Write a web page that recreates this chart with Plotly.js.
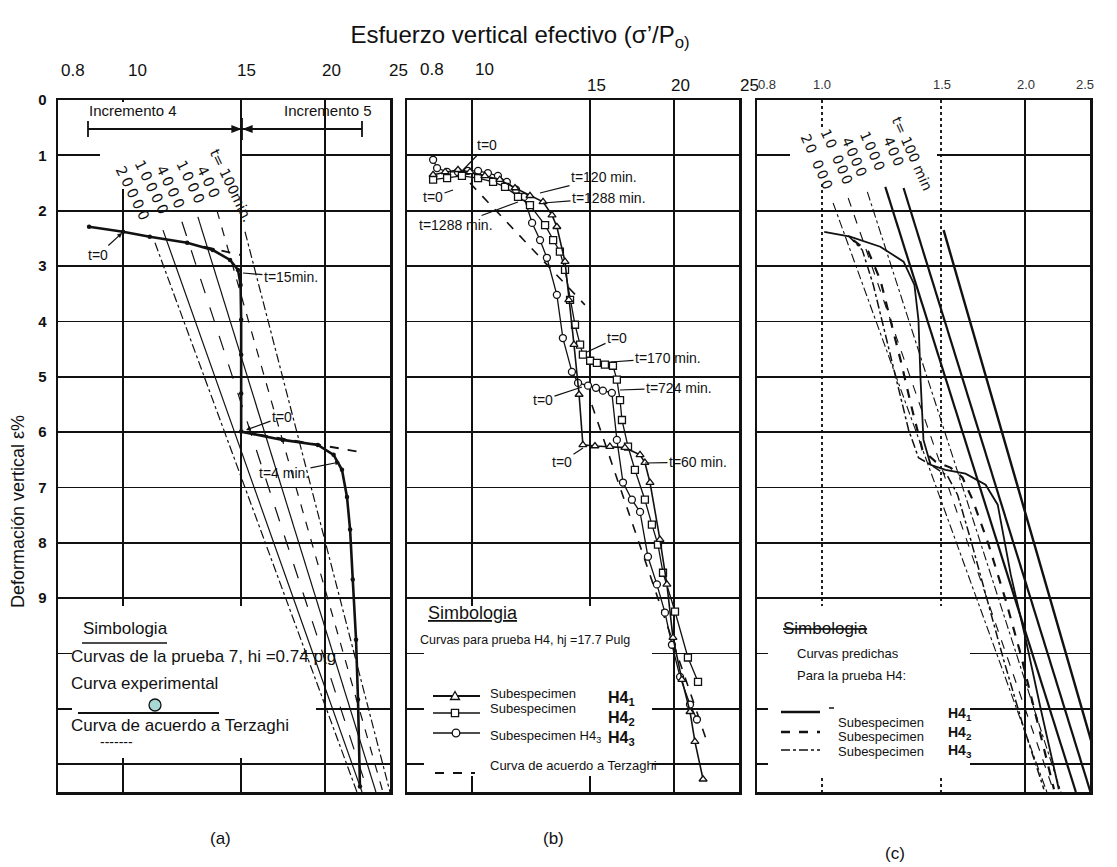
<!DOCTYPE html>
<html><head><meta charset="utf-8">
<script src="https://cdn.plot.ly/plotly-3.0.1.min.js"></script>
<style>html,body{margin:0;padding:0;background:#fff}#chart{width:1117px;height:867px}</style>
</head><body><div id="chart"></div>
<script>
// ================= DATA =================
const yTickVals = [0,1,2,3,4,5,6,7,8,9];
const yTickText = ['0','1','2','3','4','5','6','7','8','9'];
const yExtraGrid = [10,11,12];
const xGridVals = [10,15,20];
const topTickTextAB = ['0.8','10','15','20','25'];
const topTickTextC = ['0.8','1.0','1.5','2.0','2.5'];

// Panel (a) – prueba 7
const aExpX = [8.90,10.0,10.96,12.46,13.61,14.44,14.84,14.97,15.0,15.0,15.0,15.0,17.3,19.52,20.6,21.2,21.57,21.8,22.0,22.25,22.4,22.55];
const aExpY = [2.29,2.38,2.47,2.58,2.71,2.89,3.07,3.34,3.97,4.6,5.3,5.99,6.14,6.23,6.41,6.68,7.17,7.76,8.66,9.75,10.83,12.4];
const aTerzX = [13.2,15.0,null,15.0,22.9];
const aTerzY = [2.65,2.80,null,5.99,6.37];
const aIsoLabels = ['20000','10000','4000','1000','400','t= 100min.'];
const aIsoTopX = [11.16,11.47,12.24,12.93,13.80,15.2];
const aIsoTopY = [2.58,2.35,2.20,2.11,1.99,2.38];
const aIsoBotX = [22.32,22.71,23.18,23.82,24.4,25.0];
const aIsoBotY = [12.5,12.5,12.5,12.5,12.5,12.5];

// Panel (b) – prueba H4
const bH41X = [8.75,9.12,9.53,9.93,10.45,11.0,11.59,12.2,12.76,13.16,13.38,13.76,13.94,14.19,14.44,14.63,15.25,16.05,16.9,17.8,18.1,18.42,19.06,19.52,19.93,20.55,21.13,21.49,22.1];
const bH41Y = [1.35,1.30,1.26,1.30,1.37,1.44,1.59,1.73,1.84,2.08,2.29,2.92,3.61,4.42,5.32,6.23,6.25,6.26,6.28,6.41,6.55,6.91,7.94,8.75,9.71,10.47,11.05,11.59,12.27];
const bH42X = [8.75,9.18,9.66,10.21,10.75,11.2,11.71,12.2,12.85,13.21,13.52,13.76,14.0,14.24,14.49,14.63,15.0,15.35,15.78,16.22,16.44,16.62,16.73,17.08,17.49,18.1,18.54,18.93,19.26,20.07,20.98,21.72];
const bH42Y = [1.44,1.41,1.37,1.41,1.48,1.57,1.75,1.90,2.26,2.53,2.74,3.07,3.61,4.06,4.42,4.60,4.71,4.75,4.78,4.80,5.05,5.42,5.78,6.26,6.68,7.22,7.67,8.03,8.54,9.24,10.07,10.51];
const bH43X = [8.75,8.87,9.18,9.53,9.86,10.21,10.56,10.93,11.27,11.63,11.95,12.29,12.63,12.93,13.38,13.66,14.09,14.39,14.89,15.3,15.67,16.16,16.44,16.79,17.31,17.8,18.29,18.86,19.39,19.86,20.42,21.13,21.64];
const bH43Y = [1.08,1.23,1.30,1.30,1.28,1.28,1.32,1.37,1.48,1.62,1.75,2.22,2.53,2.85,3.52,4.30,4.91,5.11,5.16,5.20,5.25,5.29,6.14,6.91,7.22,7.44,8.25,8.75,9.26,9.84,10.42,10.92,11.19];
const bTerzX = [9.93,14.73,null,15.09,22.47];
const bTerzY = [1.50,3.70,null,5.51,11.64];

// Panel (c) – curvas predichas
const cIsoLabels = ['20 000','10 000','4000','1000','400','t= 100 min'];
const cIsoTopX = [10.38,10.93,11.67,12.41,13.21,15.15];
const cIsoTopY = [1.86,1.77,1.66,1.57,1.59,2.35];
const cIsoBotX = [21.57,22.1,22.63,23.82,25.04,26.4];
const cIsoBotY = [12.5,12.5,12.5,12.5,12.5,12.5];
const cH41X = [10.07,11.0,12.2,13.21,13.71,13.9,14.0,14.14,14.49,15.25,16.33,17.49,18.23,18.6,19.06,20.07,21.13,22.47];
const cH41Y = [2.38,2.47,2.65,2.92,3.34,3.97,5.05,6.14,6.59,6.68,6.75,6.95,7.31,7.85,8.57,9.75,11.01,12.45];
const cH42X = [11.12,11.71,12.2,12.63,13.07,13.61,14.09,14.73,15.51,16.16,16.73,17.67,18.73,19.73,20.84,22.1];
const cH42Y = [2.53,2.74,3.25,3.97,4.69,5.60,6.32,6.53,6.64,6.82,7.22,8.03,9.03,10.02,11.19,12.45];
const cH43X = [10.93,11.47,11.91,12.37,12.89,13.44,13.9,14.59,15.35,15.89,16.62,17.61,18.6,19.86,21.35];
const cH43Y = [2.45,2.71,3.34,4.15,5.05,5.96,6.46,6.61,6.79,7.13,7.94,9.03,10.11,11.28,12.45];

// ================= DRAWING =================
const FONT = 'Arial, "Liberation Sans", sans-serif';
const DJ = '"DejaVu Sans", Arial, sans-serif';
const INK = '#111';
const W=1117,H=867,ML=58,MR=27,MT=100,MB=75;
const PW=W-ML-MR, PH=H-MT-MB;
const fx = p => (p-ML)/PW;
const fy = p => (H-MB-p)/PH;

function note(x,y,text,size,extra,family){
  return Object.assign({xref:'paper',yref:'paper',x:fx(x),y:fy(y),text:text,showarrow:false,
    xanchor:'center',yanchor:'middle',font:{family:family||FONT,size:size||14,color:INK}},extra||{});
}
function arrowNote(tx,ty,px_,py_,text,head,size){
  return {xref:'paper',yref:'paper',x:fx(px_),y:fy(py_),ax:tx-px_,ay:ty-py_,text:text,showarrow:true,
    arrowhead:head,arrowsize:0.8,arrowwidth:1.2,arrowcolor:INK,standoff:0,
    font:{family:FONT,size:size||14,color:INK}};
}
function seg(x0,y0,x1,y1,w,dash){
  return {type:'line',xref:'paper',yref:'paper',x0:fx(x0),y0:fy(y0),x1:fx(x1),y1:fy(y1),
    line:{color:INK,width:w||1.5,dash:dash||'solid'}};
}
function maskPoly(pts){
  const d='M'+pts.map(p=>fx(p[0]).toFixed(5)+','+fy(p[1]).toFixed(5)).join('L')+'Z';
  return {type:'path',xref:'paper',yref:'paper',path:d,fillcolor:'#ffffff',line:{width:0}};
}
function mark(type,cx,cy,r,fill,path){
  const s={type:type,xref:'paper',yref:'paper',xsizemode:'pixel',ysizemode:'pixel',
    xanchor:fx(cx),yanchor:fy(cy),fillcolor:fill||'#fff',line:{color:INK,width:1.3}};
  if(type==='path'){s.path=path;} else {s.x0=-r;s.x1=r;s.y0=-r;s.y1=r;}
  return s;
}
function spaced(t,sp){return '<span style="letter-spacing:'+sp+'px">'+t+'</span>';}

const traces=[];
function addLine(xs,ys,ax,line,extra){
  traces.push(Object.assign({type:'scatter',mode:'lines',x:xs,y:ys,
    xaxis:'x'+ax,yaxis:'y'+ax,hoverinfo:'skip',connectgaps:false,
    line:Object.assign({color:INK,width:1.2},line)},extra||{}));
}

// (a)
const aDash=['dashdot','solid','longdash','solid','dash','dashdot'];
aIsoLabels.forEach((l,i)=>addLine([aIsoTopX[i],aIsoBotX[i]],[aIsoTopY[i],aIsoBotY[i]],'',{dash:aDash[i],width:1.2}));
addLine(aTerzX,aTerzY,'',{dash:'dash',width:1.8});
addLine(aExpX,aExpY,'',{width:2.6},{mode:'lines+markers',marker:{size:4.5,color:INK}});

// (b)
addLine(bTerzX,bTerzY,'2',{dash:'dash',width:1.6});
const mk = sym => ({size:7,symbol:sym,color:'#fff',line:{color:INK,width:1.3}});
addLine(bH43X,bH43Y,'2',{width:1.3},{mode:'lines+markers',marker:mk('circle')});
addLine(bH42X,bH42Y,'2',{width:1.3},{mode:'lines+markers',marker:mk('square')});
addLine(bH41X,bH41Y,'2',{width:1.6},{mode:'lines+markers',marker:mk('triangle-up')});

// (c)
const cDash=['dashdot','dash','dashdot','solid','solid','solid'];
const cW=[1.1,1.1,1.1,2.2,2.2,2.4];
cIsoLabels.forEach((l,i)=>addLine([cIsoTopX[i],cIsoBotX[i]],[cIsoTopY[i],cIsoBotY[i]],'3',{dash:cDash[i],width:cW[i]}));
addLine(cH43X,cH43Y,'3',{dash:'dashdot',width:1.5});
addLine(cH42X,cH42Y,'3',{dash:'dash',width:2.2});
addLine(cH41X,cH41Y,'3',{width:1.8});

// axes
const LR=[Math.log10(8),Math.log10(25)];
function xAx(domain,anchor){
  return {domain:domain,anchor:anchor,type:'log',range:LR,tickvals:xGridVals,showticklabels:false,ticks:'',
    showgrid:true,gridcolor:INK,gridwidth:1.8,showline:true,mirror:true,linecolor:INK,linewidth:2.5,zeroline:false,fixedrange:true};
}
function yAx(anchor,labels){
  return {anchor:anchor,domain:[0,1],range:[12.5,0],tickmode:'array',tickvals:yTickVals,ticktext:yTickText,
    showticklabels:labels,ticks:'',ticklabelstandoff:6,showgrid:true,gridcolor:INK,gridwidth:1.8,showline:true,mirror:true,
    linecolor:INK,linewidth:2.5,zeroline:false,fixedrange:true,
    minor:{tickmode:'array',tickvals:yExtraGrid,showgrid:true,gridcolor:INK,gridwidth:1.8,ticks:''},
    tickfont:{family:FONT,size:15,color:INK,weight:'bold'}};
}
const dA=[0,(390-ML)/PW], dB=[(407-ML)/PW,(739-ML)/PW], dC=[(757-ML)/PW,1];
const x3=xAx(dC,'y3');
x3.tickvals=[20];
x3.minor={tickmode:'array',tickvals:[10,15],showgrid:true,griddash:'dot',gridcolor:'#222',gridwidth:1.6,ticks:''};

const ann=[];
// top tick labels
[73,137,246,331,398].forEach((x,i)=>ann.push(note(x,71,topTickTextAB[i],17)));
[[432,70],[484,70],[596,86],[680,86],[749,86]].forEach((p,i)=>ann.push(note(p[0],p[1],topTickTextAB[i],17)));
[767,822,942,1026,1085].forEach((x,i)=>ann.push(note(x,84,topTickTextC[i],13,{font:{family:FONT,size:13,color:'#333'}})));
// rotated isochrone labels
[[133,194],[152,188],[171,188],[191,183],[209,183],[231,185]].forEach((p,i)=>
  ann.push(note(p[0],p[1],i===5?aIsoLabels[i]:spaced(aIsoLabels[i],3),i===5?14:14.5,{textangle:64},DJ)));
[[817,162],[837,157],[855,158],[873,152],[894,152],[912,153]].forEach((p,i)=>
  ann.push(note(p[0],p[1],i===5?cIsoLabels[i]:spaced(cIsoLabels[i],2),i===5?14:14,{textangle:66},DJ)));

// panel (a) texts
ann.push(note(133,110,'Incremento 4',15));
ann.push(note(328,110,'Incremento 5',15));
ann.push(arrowNote(98,255,122,233,'t=0',2,14));
ann.push(arrowNote(291,277,243,273,'t=15min.',0,14));
ann.push(arrowNote(282,417,246,430,'t=0',2,14));
ann.push(arrowNote(284,473,340,462,'t=4 min.',2,14));
ann.push(note(125,628,'Simbologia',17));
ann.push(note(69,656,'Curvas de la prueba 7, hi =0.74 plg',17,{xanchor:'left'}));
ann.push(note(69,683,'Curva experimental',17,{xanchor:'left'}));
ann.push(note(69,725,'Curva de acuerdo a Terzaghi',17,{xanchor:'left'}));
ann.push(note(116,742,'-------',14));

// panel (b) texts
ann.push(arrowNote(487,145,463,170,'t=0',0,14));
ann.push(arrowNote(433,197,453,190,'t=0',0,14));
ann.push(arrowNote(604,177,540,193,'t=120 min.',0,14));
ann.push(arrowNote(609,198,543,203,'t=1288 min.',0,14));
ann.push(arrowNote(456,225,518,202,'t=1288 min.',0,14));
ann.push(arrowNote(617,338,587,352,'t=0',0,14));
ann.push(arrowNote(668,358,611,362,'t=170 min.',0,14));
ann.push(arrowNote(679,388,620,390,'t=724 min.',0,14));
ann.push(arrowNote(543,400,582,387,'t=0',0,14));
ann.push(arrowNote(562,462,583,448,'t=0',0,14));
ann.push(arrowNote(698,462,645,463,'t=60 min.',0,14));
ann.push(note(473,613,'<u>Simbologia</u>',18));
ann.push(note(418,640,'Curvas para prueba H4, hj =17.7 Pulg',12.5,{xanchor:'left'}));
ann.push(note(488,693,'Subespecimen',13,{xanchor:'left'}));
ann.push(note(488,708,'Subespecimen',13,{xanchor:'left'}));
ann.push(note(488,736,'Subespecimen H4<sub>3</sub>',13,{xanchor:'left'}));
ann.push(note(488,765,'Curva de acuerdo a Terzaghi',13,{xanchor:'left'}));
ann.push(note(606,698,'<b>H4<sub>1</sub></b>',16,{xanchor:'left'}));
ann.push(note(606,718,'<b>H4<sub>2</sub></b>',16,{xanchor:'left'}));
ann.push(note(606,738,'<b>H4<sub>3</sub></b>',16,{xanchor:'left'}));

// panel (c) texts
ann.push(note(781,628,'<s>Simbologia</s>',17,{xanchor:'left'}));
ann.push(note(795,653,'Curvas predichas',13,{xanchor:'left'}));
ann.push(note(795,675,'Para la prueba H4:',13,{xanchor:'left'}));
ann.push(note(836,722,'Subespecimen',13,{xanchor:'left'}));
ann.push(note(836,736,'Subespecimen',13,{xanchor:'left'}));
ann.push(note(836,751,'Subespecimen',13,{xanchor:'left'}));
ann.push(note(946,714,'<b>H4<sub>1</sub></b>',14,{xanchor:'left'}));
ann.push(note(946,733,'<b>H4<sub>2</sub></b>',14,{xanchor:'left'}));
ann.push(note(946,751,'<b>H4<sub>3</sub></b>',14,{xanchor:'left'}));

// panel letters & y title
ann.push(note(220,838,'(a)',17));
ann.push(note(553,838,'(b)',17));
ann.push(note(895,853,'(c)',17));
ann.push(note(18,512,'Deformación vertical ε%',18,{textangle:-90}));

const shapes=[
  // white masks hiding the grid behind legends and labels (kept clear of the curves)
  maskPoly([[72,606],[284,606],[316,695],[316,758],[72,758]]),
  maskPoly([[100,102],[240,102],[240,189],[100,189]]),
  maskPoly([[424,606],[652,606],[652,776],[424,776]]),
  maskPoly([[768,606],[970,606],[970,776],[768,776]]),
  maskPoly([[790,128],[937,128],[937,184],[790,184]]),
  // incremento bar
  seg(88,129,362,129,1.8), seg(88,121,88,137,1.8), seg(362,121,362,137,1.8), seg(242,118,242,140,1.8),
  mark('path',240,129,0,INK,'M0,0L-8,3L-8,-3Z'),
  mark('path',244,129,0,INK,'M0,0L8,3L8,-3Z'),
  // legend (a)
  seg(82,643,167,643,1.5), seg(78,713,219,713,2),
  mark('circle',155,705,6,'#a9d9d6'),
  // legend (b)
  seg(433,696,480,696,2.2), seg(433,713,480,713,1.6), seg(433,733,480,733,1.6), seg(435,773,475,773,2,'dash'),
  mark('path',455,696,0,'#fff','M-4.5,-3.5L4.5,-3.5L0,4.5Z'),
  mark('rect',455,713,3.6,'#fff'),
  mark('circle',456,733,3.8,'#fff'),
  // legend (c)
  seg(781,712,820,712,2.5), seg(829,708,834,708,1.5), seg(781,732,820,732,2.5,'dash'), seg(781,750,820,750,1.5,'dashdot')
];

const layout={
  width:W,height:H,margin:{l:ML,r:MR,t:MT,b:MB},paper_bgcolor:'#fff',plot_bgcolor:'#fff',showlegend:false,
  title:{text:'Esfuerzo vertical efectivo (σ’/P<sub>o)</sub>',font:{family:FONT,size:24,color:INK},
    xref:'container',yref:'container',x:520/W,xanchor:'center',y:1-35/H,yanchor:'middle'},
  xaxis:xAx(dA,'y'), yaxis:yAx('x',true),
  xaxis2:xAx(dB,'y2'), yaxis2:yAx('x2',false),
  xaxis3:x3, yaxis3:yAx('x3',false),
  annotations:ann, shapes:shapes
};
Plotly.newPlot('chart',traces,layout,{staticPlot:true,displayModeBar:false});
</script></body></html>
